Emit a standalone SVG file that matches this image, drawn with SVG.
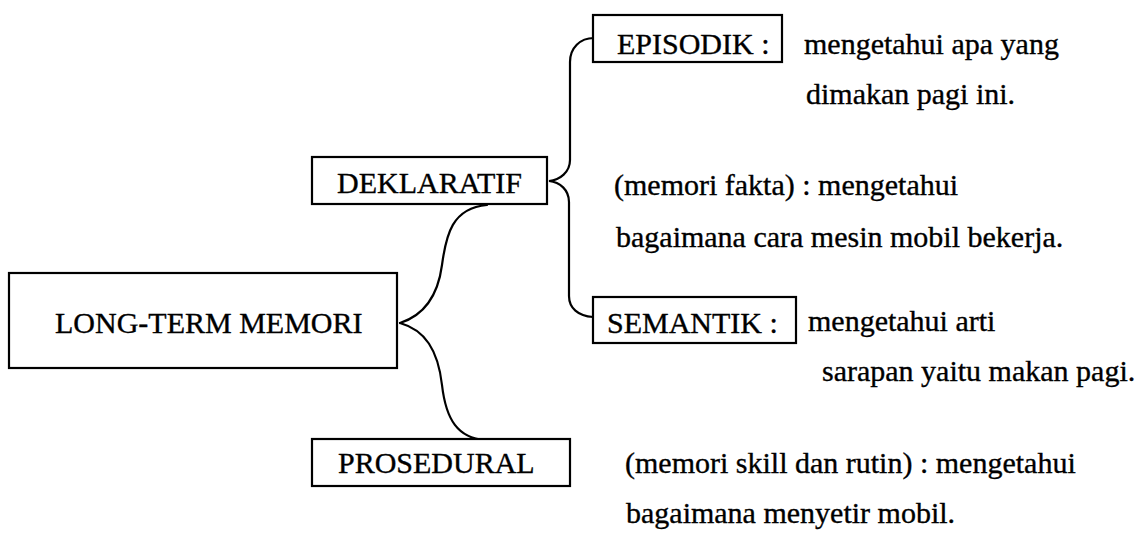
<svg xmlns="http://www.w3.org/2000/svg" width="1142" height="534" viewBox="0 0 1142 534">
  <style>
    .box { fill: #ffffff; stroke: #000000; stroke-width: 2.2; }
    .label { font-size: 30px; fill: #000000; stroke: #000000; stroke-width: 0.35; }
    .link { fill: none; stroke: #000000; stroke-width: 2.2; stroke-linecap: round; }
  </style>
  <rect width="1142" height="534" fill="#ffffff"/>

  <!-- connectors -->
  <g id="connectors">
    <path class="link" d="M400,323 C425,315 438,295 442,265 C446,235 452,208 487,205"/>
    <path class="link" d="M400,323 C425,330 438,350 442,385 C446,420 458,438 485,440"/>
    <path class="link" d="M594,38 C580,38 570,48 570,62 L570,160 C570,172 560,180 549,181 C560,182 569,190 569,202 L569,296 C569,308 578,316 593,317"/>
  </g>

  <g font-family="'Liberation Serif', 'Times New Roman', 'DejaVu Serif', serif">
    <!-- root -->
    <g id="long-term-memori">
      <rect class="box" x="9" y="273" width="388" height="95"/>
      <text class="label" x="55" y="333">LONG-TERM MEMORI</text>
    </g>

    <!-- first level -->
    <g id="deklaratif">
      <rect class="box" x="312" y="157" width="235" height="47"/>
      <text class="label" x="337" y="193">DEKLARATIF</text>
    </g>
    <g id="prosedural">
      <rect class="box" x="312" y="439" width="258" height="47"/>
      <text class="label" x="338" y="473">PROSEDURAL</text>
    </g>

    <!-- second level -->
    <g id="episodik">
      <rect class="box" x="593" y="15" width="189" height="47"/>
      <text class="label" x="617" y="54">EPISODIK :</text>
    </g>
    <g id="semantik">
      <rect class="box" x="593" y="297" width="203" height="46"/>
      <text class="label" x="607" y="333">SEMANTIK :</text>
    </g>

    <!-- descriptions -->
    <g id="desc-episodik">
      <text class="label" x="804" y="54">mengetahui apa yang</text>
      <text class="label" x="806" y="104">dimakan pagi ini.</text>
    </g>
    <g id="desc-deklaratif">
      <text class="label" x="614" y="195">(memori fakta) : mengetahui</text>
      <text class="label" x="616" y="247">bagaimana cara mesin mobil bekerja.</text>
    </g>
    <g id="desc-semantik">
      <text class="label" x="808" y="331">mengetahui arti</text>
      <text class="label" x="822" y="381">sarapan yaitu makan pagi.</text>
    </g>
    <g id="desc-prosedural">
      <text class="label" x="625" y="473">(memori skill dan rutin) : mengetahui</text>
      <text class="label" x="626" y="523">bagaimana menyetir mobil.</text>
    </g>
  </g>
</svg>
